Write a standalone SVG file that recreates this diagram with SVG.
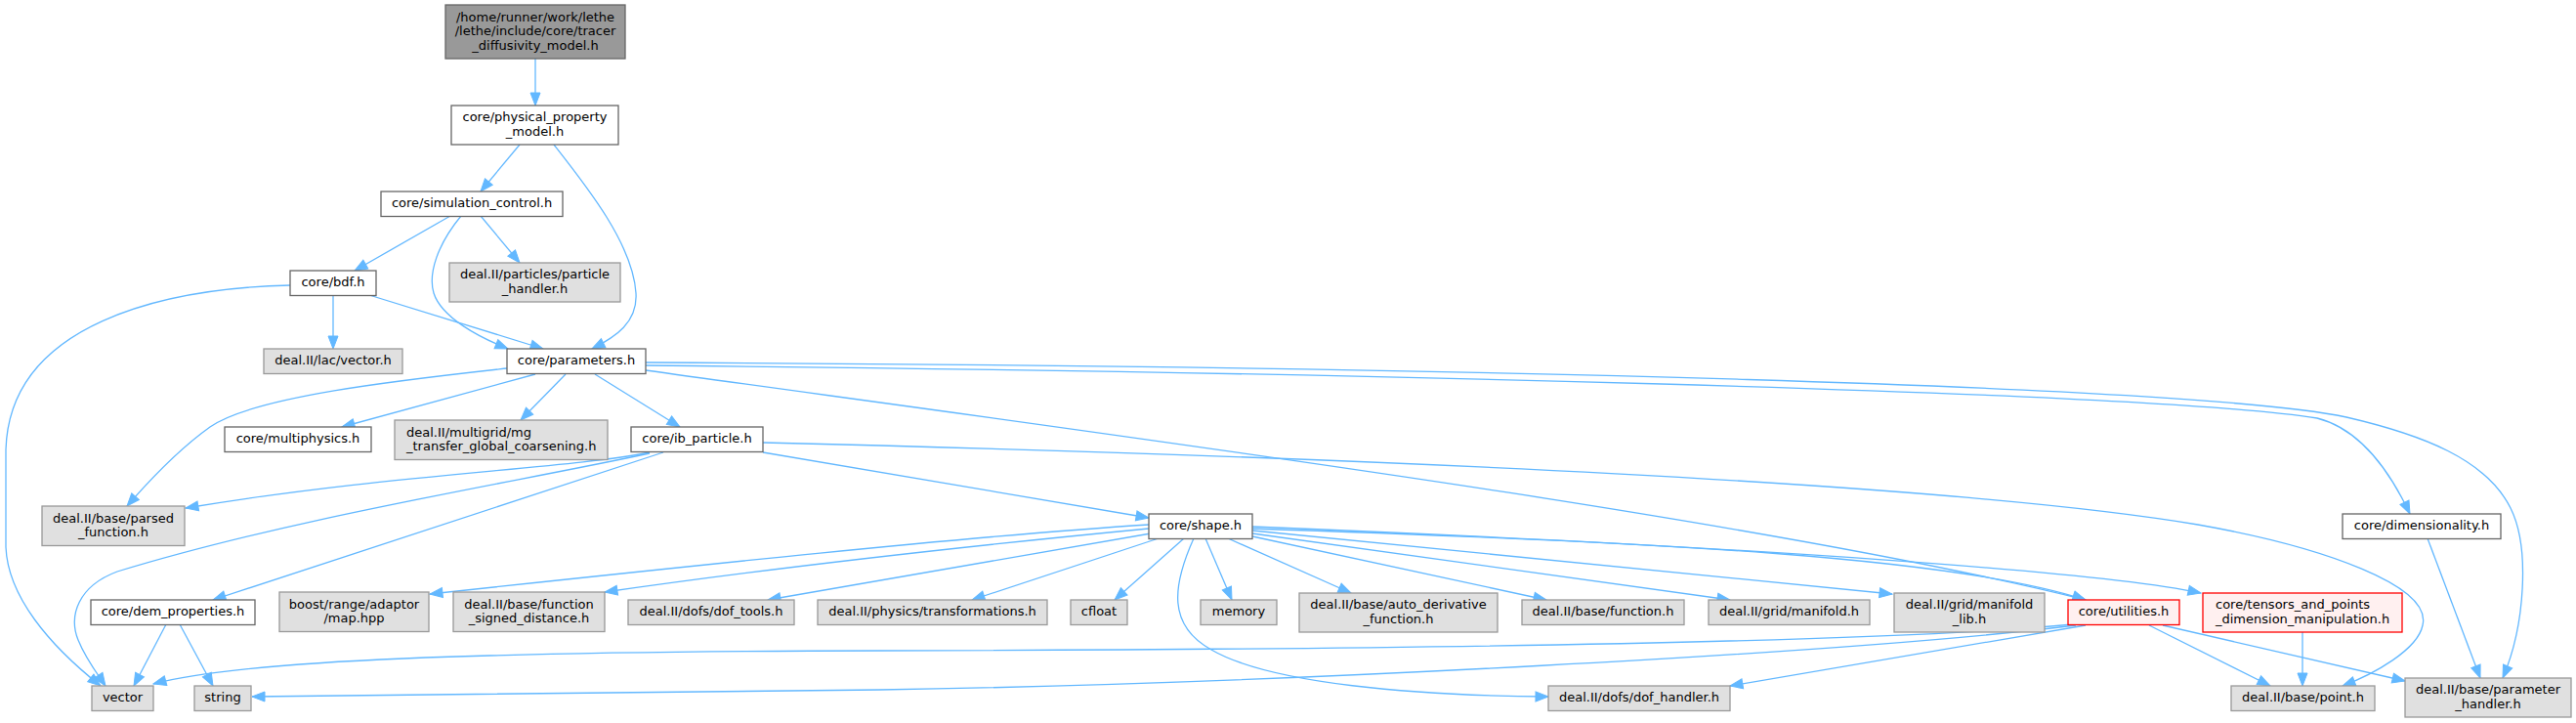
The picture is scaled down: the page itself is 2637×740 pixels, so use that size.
<svg xmlns="http://www.w3.org/2000/svg" width="2637" height="740" viewBox="0 0 2637 740">
<style>
.n rect{stroke-width:1.3}
.w rect{fill:#ffffff;stroke:#666666}
.g rect{fill:#e0e0e0;stroke:#999999}
.t rect{fill:#999999;stroke:#666666}
.r rect{fill:#fff0f0;stroke:#ff0000}
text{font-family:"DejaVu Sans","Liberation Sans",sans-serif;font-size:13px;fill:#000000;text-anchor:middle}
text.l{text-anchor:start}
#edges path{fill:none;stroke:#63b8ff;stroke-width:1.3;marker-end:url(#a)}
</style>
<defs>
<marker id="a" markerUnits="userSpaceOnUse" markerWidth="16" markerHeight="12" refX="13" refY="5" orient="auto" overflow="visible">
<path d="M0,0 L13,5 L0,10 z" fill="#63b8ff" stroke="#63b8ff" stroke-width="1"/>
</marker>
</defs>
<rect x="0" y="0" width="2637" height="740" fill="#ffffff"/>
<g id="edges">
<path d="M548,60 L548,108"/>
<path d="M532,148 L492,196"/>
<path d="M567,148 C600,190 648,250 651,300 C653,330 630,345 606,357"/>
<path d="M461,221 L363,277"/>
<path d="M492,221 L532,269"/>
<path d="M472,221 C448,250 438,280 444,300 C452,325 490,345 520,357"/>
<path d="M341,302 L341,357"/>
<path d="M378,302 L556,357"/>
<path d="M297,292 C170,295 10,330 6,460 L6,560 C8,610 50,660 103,702"/>
<path d="M519,377 C420,388 260,405 215,437 C180,462 150,495 130,518"/>
<path d="M548,383 L350,437"/>
<path d="M579,383 L533,430"/>
<path d="M609,383 L696,437"/>
<path d="M661,379 C1100,440 1800,530 2135,614"/>
<path d="M661,374 C1300,380 2200,400 2372,428 C2420,440 2450,490 2467,526"/>
<path d="M661,371 C1500,375 2250,395 2402,427 C2480,445 2545,470 2570,520 C2590,560 2585,640 2562,694"/>
<path d="M665,463 C580,480 400,485 190,520"/>
<path d="M665,464 C520,495 300,530 120,585 C80,600 70,630 80,655 C88,675 100,690 108,702"/>
<path d="M679,463 L218,614"/>
<path d="M781,463 L1176,530"/>
<path d="M781,453 C1400,468 2000,495 2250,537 C2380,560 2490,600 2480,640 C2475,665 2430,690 2398,702"/>
<path d="M1176,537 C1000,548 700,580 440,608"/>
<path d="M1176,541 C1000,558 800,580 619,606"/>
<path d="M1178,546 L786,614"/>
<path d="M1186,551 L995,614"/>
<path d="M1212,551 L1141,614"/>
<path d="M1234,551 L1261,614"/>
<path d="M1257,551 L1383,607"/>
<path d="M1282,549 L1583,614"/>
<path d="M1282,546 L1771,614"/>
<path d="M1282,543 L1937,608"/>
<path d="M1282,541 C1700,555 2000,570 2135,614"/>
<path d="M1282,539 C1800,560 2150,585 2253,607"/>
<path d="M1222,551 C1200,600 1195,640 1240,665 C1300,700 1450,712 1585,713"/>
<path d="M2122,639 C1900,660 1300,665 900,666 C500,667 250,675 157,700"/>
<path d="M2125,640 C1900,668 1300,700 900,706 C600,710 400,713 258,713"/>
<path d="M2135,640 L1771,702"/>
<path d="M2200,640 L2324,702"/>
<path d="M2214,640 L2462,697"/>
<path d="M2357,647 L2357,702"/>
<path d="M2485,551 L2539,694"/>
<path d="M170,639 L137,702"/>
<path d="M184,639 L218,702"/>
</g>
<g id="n_top" class="n t"><rect x="456" y="5" width="184" height="55"/><text x="548" y="21.5">/home/runner/work/lethe</text><text x="548" y="36">/lethe/include/core/tracer</text><text x="548" y="50.5">_diffusivity_model.h</text></g>
<g id="n_physical" class="n w"><rect x="462" y="108" width="171" height="40"/><text x="547.5" y="124">core/physical_property</text><text x="547.5" y="138.5">_model.h</text></g>
<g id="n_simulation" class="n w"><rect x="390" y="196" width="186" height="25.5"/><text x="483" y="212.2">core/simulation_control.h</text></g>
<g id="n_bdf" class="n w"><rect x="297" y="277" width="88" height="25.5"/><text x="341" y="293.2">core/bdf.h</text></g>
<g id="n_particle" class="n g"><rect x="460" y="269" width="175" height="40"/><text x="547.5" y="285">deal.II/particles/particle</text><text x="547.5" y="299.5">_handler.h</text></g>
<g id="n_lacvector" class="n g"><rect x="270" y="357" width="142" height="25.5"/><text x="341" y="373.2">deal.II/lac/vector.h</text></g>
<g id="n_parameters" class="n w"><rect x="519" y="357" width="142" height="25.5"/><text x="590" y="373.2">core/parameters.h</text></g>
<g id="n_multiphysics" class="n w"><rect x="230" y="437" width="150" height="25.5"/><text x="305" y="453.2">core/multiphysics.h</text></g>
<g id="n_mg" class="n g"><rect x="404" y="430" width="218" height="40.5"/><text class="l" x="416" y="446.5">deal.II/multigrid/mg</text><text class="l" x="416" y="461">_transfer_global_coarsening.h</text></g>
<g id="n_ib" class="n w"><rect x="646" y="437" width="135" height="25.5"/><text x="713.5" y="453.2">core/ib_particle.h</text></g>
<g id="n_parsed" class="n g"><rect x="43" y="518" width="146" height="40.5"/><text x="116" y="534.5">deal.II/base/parsed</text><text x="116" y="549">_function.h</text></g>
<g id="n_shape" class="n w"><rect x="1176" y="526" width="106" height="25.5"/><text x="1229" y="542.2">core/shape.h</text></g>
<g id="n_dim" class="n w"><rect x="2398" y="526" width="162" height="25.5"/><text x="2479" y="542.2">core/dimensionality.h</text></g>
<g id="n_dem" class="n w"><rect x="93" y="614" width="168" height="25.5"/><text x="177" y="630.2">core/dem_properties.h</text></g>
<g id="n_boost" class="n g"><rect x="286" y="606" width="153" height="40.5"/><text x="362.5" y="622.5">boost/range/adaptor</text><text x="362.5" y="637">/map.hpp</text></g>
<g id="n_funcsigned" class="n g"><rect x="464" y="606" width="155" height="40.5"/><text x="541.5" y="622.5">deal.II/base/function</text><text x="541.5" y="637">_signed_distance.h</text></g>
<g id="n_doftools" class="n g"><rect x="643" y="614" width="170" height="25.5"/><text x="728" y="630.2">deal.II/dofs/dof_tools.h</text></g>
<g id="n_transform" class="n g"><rect x="837" y="614" width="235" height="25.5"/><text x="954.5" y="630.2">deal.II/physics/transformations.h</text></g>
<g id="n_cfloat" class="n g"><rect x="1096" y="614" width="58" height="25.5"/><text x="1125" y="630.2">cfloat</text></g>
<g id="n_memory" class="n g"><rect x="1229" y="614" width="78" height="25.5"/><text x="1268" y="630.2">memory</text></g>
<g id="n_autoderiv" class="n g"><rect x="1330" y="607" width="203" height="40"/><text x="1431.5" y="623">deal.II/base/auto_derivative</text><text x="1431.5" y="637.5">_function.h</text></g>
<g id="n_basefunc" class="n g"><rect x="1558" y="614" width="166" height="25.5"/><text x="1641" y="630.2">deal.II/base/function.h</text></g>
<g id="n_gridmanifold" class="n g"><rect x="1749" y="614" width="165" height="25.5"/><text x="1831.5" y="630.2">deal.II/grid/manifold.h</text></g>
<g id="n_manifoldlib" class="n g"><rect x="1939" y="607" width="154" height="40"/><text x="2016" y="623">deal.II/grid/manifold</text><text x="2016" y="637.5">_lib.h</text></g>
<g id="n_utilities" class="n r"><rect x="2117" y="614" width="114" height="25.5"/><text x="2174" y="630.2">core/utilities.h</text></g>
<g id="n_tensors" class="n r"><rect x="2255" y="607" width="204" height="40"/><text class="l" x="2268" y="623">core/tensors_and_points</text><text class="l" x="2268" y="637.5">_dimension_manipulation.h</text></g>
<g id="n_vector" class="n g"><rect x="94" y="702" width="63" height="25.5"/><text x="125.5" y="718.2">vector</text></g>
<g id="n_string" class="n g"><rect x="199" y="702" width="58" height="25.5"/><text x="228" y="718.2">string</text></g>
<g id="n_dofhandler" class="n g"><rect x="1585" y="702" width="186" height="25.5"/><text x="1678" y="718.2">deal.II/dofs/dof_handler.h</text></g>
<g id="n_point" class="n g"><rect x="2284" y="702" width="147" height="25.5"/><text x="2357.5" y="718.2">deal.II/base/point.h</text></g>
<g id="n_paramhandler" class="n g"><rect x="2462" y="694" width="170" height="40"/><text x="2547" y="710">deal.II/base/parameter</text><text x="2547" y="724.5">_handler.h</text></g>
</svg>
